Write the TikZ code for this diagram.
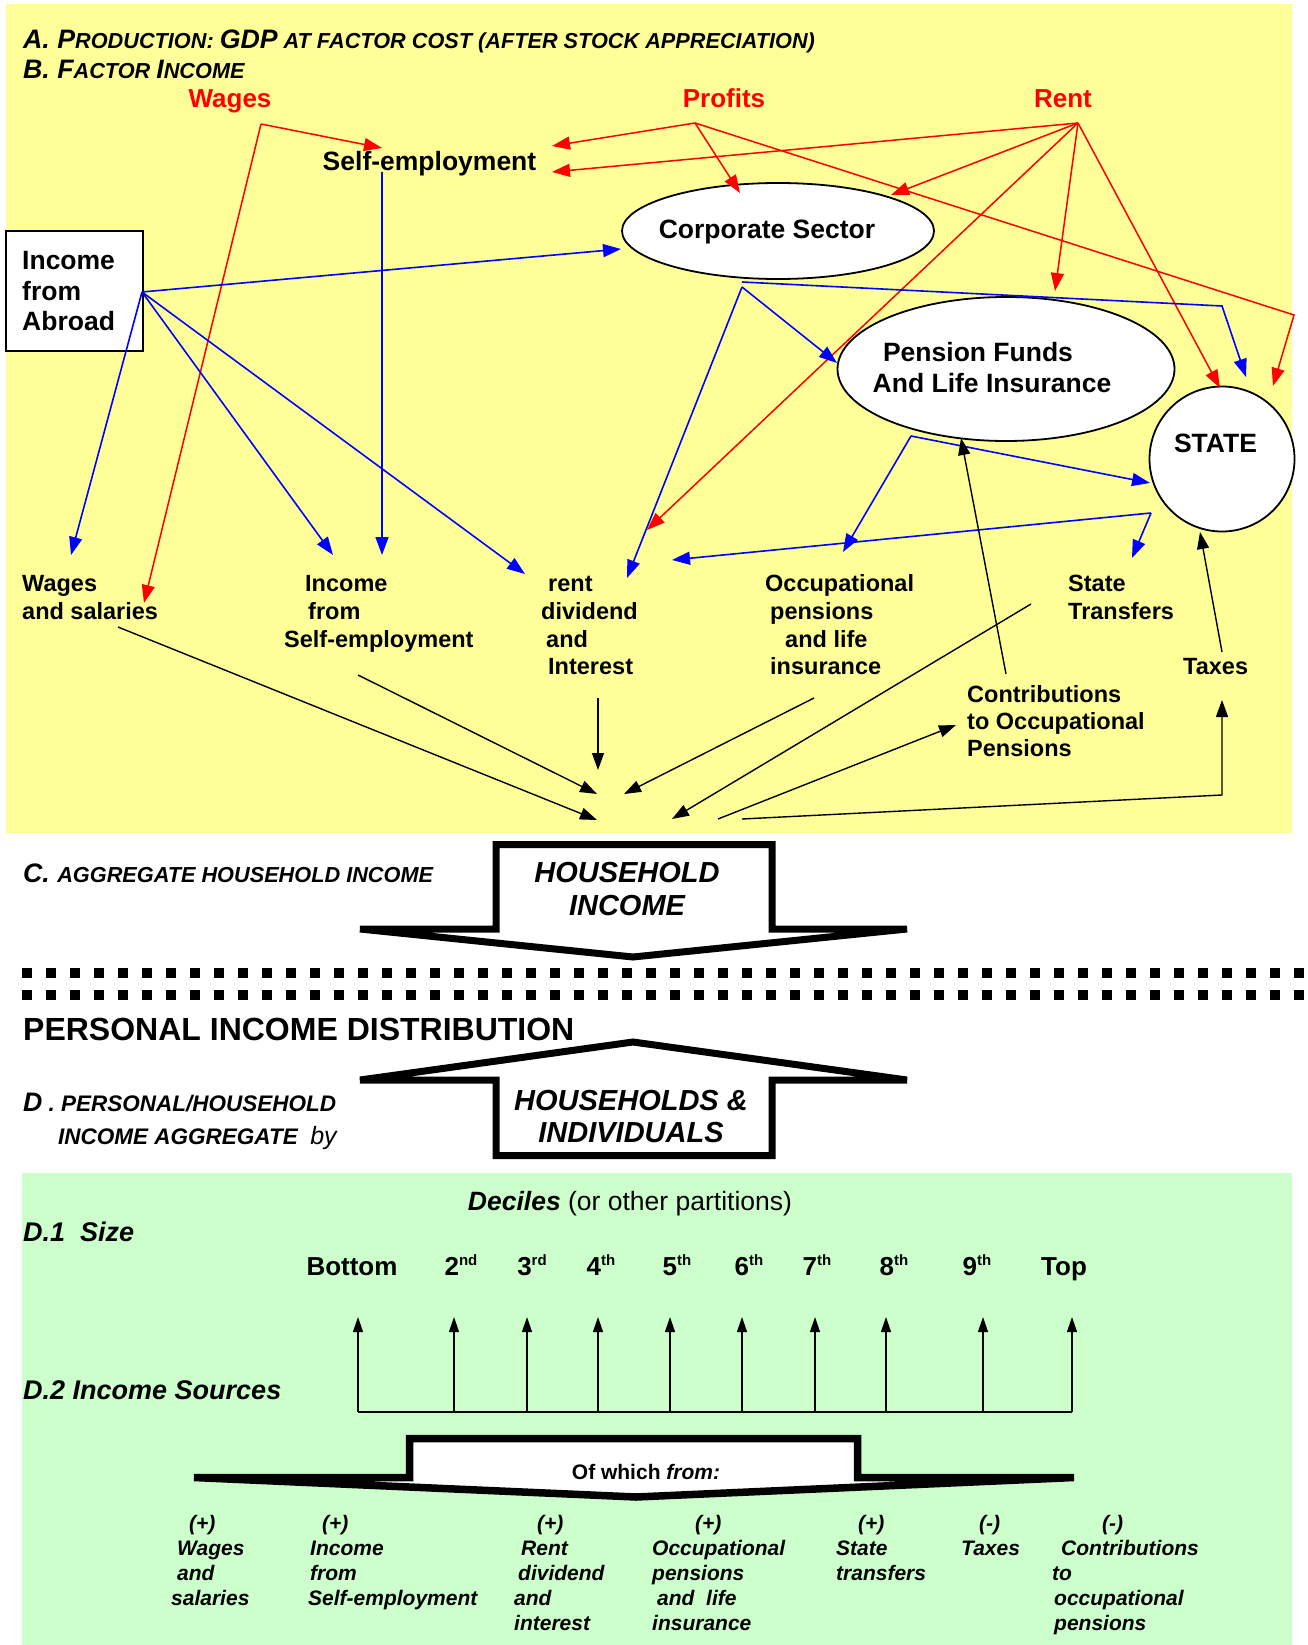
\documentclass[tikz,border=0pt]{standalone}
\usepackage{fontspec}
\setmainfont{Liberation Sans}
\usetikzlibrary{arrows.meta,shapes.geometric}
\definecolor{yell}{RGB}{255,255,153}
\definecolor{grn}{RGB}{204,255,204}
\definecolor{rd}{RGB}{255,0,0}
\definecolor{bl}{RGB}{0,0,255}
\newcommand\myfs[1]{\fontsize{#1}{#1}\selectfont}
\newcommand\tbig[1]{{\myfs{26.7}#1}}
\newcommand\tsm[1]{{\myfs{21.7}#1}}
\newcommand\fl{\vphantom{(}}
\newcommand\sups[1]{\raisebox{10pt}{\myfs{15}#1}}
\begin{document}
\begin{tikzpicture}[x=1pt,y=-1pt,
  redarr/.style={draw=rd, line width=1.5pt, -{Triangle[width=13pt,length=18pt]}},
  bluearr/.style={draw=bl, line width=1.6pt, -{Triangle[width=13pt,length=18pt]}},
  blkarr/.style={draw=black, line width=1.4pt, -{Triangle[width=12pt,length=17pt]}},
  decarr/.style={draw=black, line width=1.3pt, -{Triangle[width=10pt,length=15pt]}},
  ttl/.style={anchor=base west, inner sep=0pt, font=\bfseries\itshape},
  redlab/.style={anchor=base, inner sep=0pt, text=rd, font=\bfseries\myfs{26}},
  boxlab/.style={anchor=base, inner sep=0pt, font=\bfseries\myfs{26.5}},
  lab/.style={anchor=north west, inner sep=0pt, align=left, font=\bfseries\fontsize{23.5}{27.7}\selectfont},
  ilab/.style={anchor=north west, inner sep=0pt, align=left, font=\bfseries\itshape\fontsize{21}{25}\selectfont},
  blockarr/.style={draw=black, fill=white, line width=7pt, line join=miter},
  dec/.style={anchor=base, inner sep=0pt, font=\bfseries\myfs{26}},
  shapebox/.style={draw, fill=white, line width=1.8pt, inner sep=0pt}
]
\useasboundingbox (0,0) rectangle (1307,1645);
\fill[white] (0,0) rectangle (1307,1645);
\fill[yell] (6,4) rectangle (1292,833);
\fill[grn] (22,1173) rectangle (1292,1645);

% ---------- titles
\node[ttl] (tA) at (23,48.5) {\tbig{A. P}\tsm{RODUCTION: }\tbig{GDP}\tsm{ AT FACTOR COST (AFTER STOCK APPRECIATION)}};
\node[ttl] (tB) at (23,79) {\tbig{B. F}\tsm{ACTOR }\tbig{I}\tsm{NCOME}};

% ---------- red labels
\node[redlab] (wages) at (230,108) {Wages};
\node[redlab] (profits) at (724,108) {Profits};
\node[redlab] (rent) at (1063,108) {Rent};

% ---------- shapes
\node[shapebox, ellipse, minimum width=312pt, minimum height=96pt] (cs) at (778,231) {};
\node[shapebox, ellipse, minimum width=337pt, minimum height=144pt] (pf) at (1006,369) {};
\node[shapebox, circle, minimum size=145pt] (state) at (1222,459) {};
\node[shapebox, line width=1.6pt, minimum width=137pt, minimum height=120pt] (abroad) at (74.5,291) {};

% ---------- coordinates
\coordinate (wO) at (261,124);
\coordinate (pO) at (695,123);
\coordinate (rO) at (1078,123);
\coordinate (seTipW) at (382,148);
\coordinate (seTipP) at (552,146);
\coordinate (seTipR) at (552,172);
\coordinate (wsTip) at (144,603);
\coordinate (csTipP) at (740,193);
\coordinate (csTipR) at (891,195);
\coordinate (pCorner) at (1294,315);
\coordinate (stTipP) at (1273,386);
\coordinate (stTipR) at (1220,388);
\coordinate (pfTipR) at (1055,291);
\coordinate (rdTipR) at (647,530);
\coordinate (aO) at (142,292);
\coordinate (csTipA) at (621,249);
\coordinate (wsTipA) at (71,555);
\coordinate (seiTipA) at (333,555);
\coordinate (rdTipA) at (525,574);
\coordinate (seB) at (382,172);
\coordinate (seiTipS) at (382,555);
\coordinate (csB1) at (742,282);
\coordinate (csCorner) at (1222,306);
\coordinate (stTipC) at (1246,377);
\coordinate (csB2) at (742,287);
\coordinate (pfTipC) at (837,363);
\coordinate (rdTipC) at (627,578);
\coordinate (pfB) at (911,436);
\coordinate (stTipF) at (1150,483);
\coordinate (opTipF) at (843,552);
\coordinate (stB) at (1151,513);
\coordinate (trTip) at (1132,558);
\coordinate (rdTipS) at (672,560);
\coordinate (wsS) at (118,627);
\coordinate (hubW) at (597,820);
\coordinate (seiS) at (358,675);
\coordinate (hubS) at (597,794);
\coordinate (rdS) at (598,698);
\coordinate (hubR) at (598,770);
\coordinate (opS) at (814,698);
\coordinate (hubO) at (624,794);
\coordinate (trS) at (1031,604);
\coordinate (hubT) at (672,819);
\coordinate (hub1) at (718,819);
\coordinate (coTip) at (956,725);
\coordinate (hub2) at (742,819);
\coordinate (txCorner) at (1222,795);
\coordinate (txTip) at (1222,700);
\coordinate (txS) at (1222,652);
\coordinate (stTipT) at (1200,532);
\coordinate (coS) at (1006,674);
\coordinate (pfTipO) at (961,438);

% ---------- red arrows
\draw[redarr] (wO) -- (seTipW);
\draw[redarr] (wO) -- (wsTip);
\draw[redarr] (pO) -- (seTipP);
\draw[redarr] (pO) -- (csTipP);
\draw[redarr] (pO) -- (pCorner) -- (stTipP);
\draw[redarr] (rO) -- (seTipR);
\draw[redarr] (rO) -- (csTipR);
\draw[redarr] (rO) -- (pfTipR);
\draw[redarr] (rO) -- (rdTipR);
\draw[redarr] (rO) -- (stTipR);

% ---------- blue arrows
\draw[bluearr] (aO) -- (csTipA);
\draw[bluearr] (aO) -- (wsTipA);
\draw[bluearr] (aO) -- (seiTipA);
\draw[bluearr] (aO) -- (rdTipA);
\draw[bluearr] (seB) -- (seiTipS);
\draw[bluearr] (csB1) -- (csCorner) -- (stTipC);
\draw[bluearr] (csB2) -- (pfTipC);
\draw[bluearr] (csB2) -- (rdTipC);
\draw[bluearr] (pfB) -- (stTipF);
\draw[bluearr] (pfB) -- (opTipF);
\draw[bluearr] (stB) -- (trTip);
\draw[bluearr] (stB) -- (rdTipS);

% ---------- black arrows
\draw[blkarr] (wsS) -- (hubW);
\draw[blkarr] (seiS) -- (hubS);
\draw[blkarr] (rdS) -- (hubR);
\draw[blkarr] (opS) -- (hubO);
\draw[blkarr] (trS) -- (hubT);
\draw[blkarr] (hub1) -- (coTip);
\draw[blkarr] (hub2) -- (txCorner) -- (txTip);
\draw[blkarr] (txS) -- (stTipT);
\draw[blkarr] (coS) -- (pfTipO);

% ---------- texts of shapes
\node[boxlab] (se) at (429.5,171) {Self-employment};
\node[boxlab] (cst) at (767,238.5) {Corporate Sector};
\node[boxlab] (pft1) at (978,361.5) {Pension Funds};
\node[boxlab] (pft2) at (992,392.5) {And Life Insurance};
\node[boxlab] (statet) at (1215.5,452.5) {STATE};
\node[anchor=north west, inner sep=0pt, align=left, font=\bfseries\fontsize{26.5}{30.5}\selectfont] (abroadt) at (22,250.2) {\fl Income\\from\\Abroad};

% ---------- income labels
\node[lab] (wagesL) at (22,574.4) {\fl Wages\\and salaries};
\node[lab] (selfL) at (284,574.4) {\hspace*{21pt}\fl Income\\\hspace*{24pt}from\\Self-employment};
\node[lab] (rentL) at (541,574.4) {\hspace*{7pt}\fl rent\\dividend\\\hspace*{5pt}and\\\hspace*{7pt}Interest};
\node[lab] (occL) at (765,574.4) {\fl Occupational\\\hspace*{5pt}pensions\\\hspace*{20pt}and life\\\hspace*{5pt}insurance};
\node[lab] (stL) at (1068,574.4) {\fl State\\Transfers};
\node[lab] (taxL) at (1183,657.4) {\fl Taxes};
\node[lab, font=\bfseries\fontsize{23.5}{27}\selectfont] (contL) at (967,685.4) {\fl Contributions\\to Occupational\\Pensions};

% ---------- section C
\node[ttl] (tC) at (23,882.3) {\tbig{C. }\tsm{AGGREGATE HOUSEHOLD INCOME}};
\draw[blockarr] (496,844.5) -- (772,844.5) -- (772,929) -- (907,929) -- (633,957) -- (360,929) -- (496,929) -- cycle;
\node[anchor=north, inner sep=0pt, align=center, font=\bfseries\itshape\fontsize{29}{33}\selectfont] (hhi) at (627,861.4) {\fl HOUSEHOLD\\INCOME};

\draw[line width=10pt, dash pattern=on 10pt off 14pt] (22,973) -- (1307,973);
\draw[line width=10pt, dash pattern=on 10pt off 14pt] (22,995) -- (1307,995);

\node[anchor=base west, inner sep=0pt, font=\bfseries\myfs{32}] (pid) at (23,1040.5) {PERSONAL INCOME DISTRIBUTION};

% ---------- section D
\draw[blockarr] (360,1080) -- (633,1042) -- (907,1080) -- (772,1080) -- (772,1155.5) -- (496,1155.5) -- (496,1080) -- cycle;
\node[anchor=north, inner sep=0pt, align=center, font=\bfseries\itshape\fontsize{29}{32}\selectfont] (hhs) at (631,1089.3) {\fl HOUSEHOLDS \&\\INDIVIDUALS};
\node[ttl] (tD1) at (23,1111) {\tbig{D}{\myfs{22.5} . PERSONAL/HOUSEHOLD}};
\node[ttl] (tD2) at (58,1144) {{\myfs{22.5}INCOME AGGREGATE\ \ }{\mdseries\myfs{25}by}};

\node[anchor=base, inner sep=0pt, font=\myfs{26.5}] (deciles) at (630,1210.5) {\textbf{\textit{Deciles}} (or other partitions)};
\node[ttl, font=\bfseries\itshape\myfs{27}] (d1) at (23,1241.5) {D.1\ \ Size};
\node[ttl, font=\bfseries\itshape\myfs{27}] (d2) at (23,1399.5) {D.2 Income Sources};

\foreach \x/\t [count=\i] in {352/Bottom, 461/2\sups{nd}, 532/3\sups{rd}, 601/4\sups{th}, 677/5\sups{th}, 749/6\sups{th}, 817/7\sups{th}, 894/8\sups{th}, 977/9\sups{th}, 1064/Top}
  \node[dec] (q\i) at (\x,1275.4) {\t};

\foreach \x [count=\i] in {358,454,527,598,670,742,815,886,983,1072} {
  \coordinate (db\i) at (\x,1412);
  \coordinate (dt\i) at (\x,1317);
  \draw[decarr] (db\i) -- (dt\i);
}
\draw[line width=1.4pt] (db1) -- (db10);

\draw[blockarr, line width=7.5pt] (409.5,1438.5) -- (857.5,1438.5) -- (857.5,1477.5) -- (1074,1477.5) -- (636,1497) -- (194,1477.5) -- (409.5,1477.5) -- cycle;
\node[anchor=base, inner sep=0pt, font=\bfseries\myfs{21}] (ofwhich) at (646,1479.5) {Of which \textit{from:}};

% ---------- bottom labels
\node[ilab] (b1) at (171,1515.2) {\hspace*{18pt}\fl(+)\\\hspace*{6pt}Wages\\\hspace*{6pt}and\\salaries};
\node[ilab] (b2) at (308,1515.2) {\hspace*{14pt}\fl(+)\\\hspace*{2pt}Income\\\hspace*{2pt}from\\Self-employment};
\node[ilab] (b3) at (514,1515.2) {\hspace*{23pt}\fl(+)\\\hspace*{7pt}Rent\\\hspace*{4pt}dividend\\and\\interest};
\node[ilab] (b4) at (652,1515.2) {\hspace*{43pt}\fl(+)\\Occupational\\pensions\\\hspace*{5pt}and\ \ life\\insurance};
\node[ilab] (b5) at (836,1515.2) {\hspace*{22pt}\fl(+)\\State\\transfers};
\node[ilab] (b6) at (961,1515.2) {\hspace*{18pt}\fl(-)\\Taxes};
\node[ilab] (b7) at (1052,1515.2) {\hspace*{50pt}\fl(-)\\\hspace*{9pt}Contributions\\to\\\hspace*{2pt}occupational\\\hspace*{2pt}pensions};
\end{tikzpicture}
\end{document}
